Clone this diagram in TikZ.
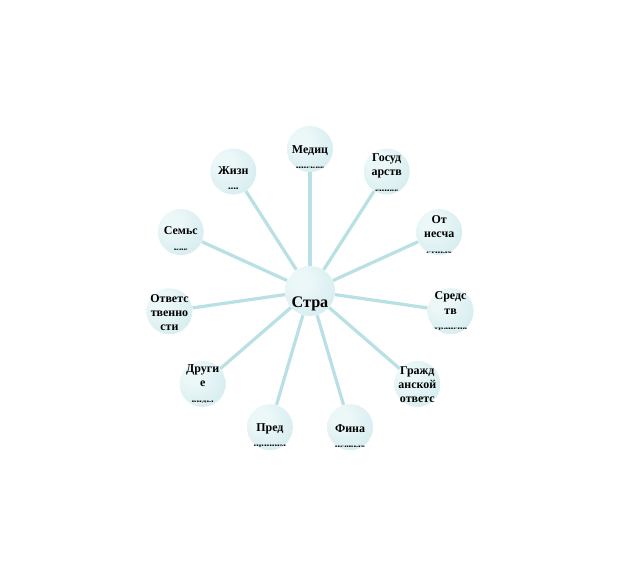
\documentclass[tikz,border=0pt]{standalone}
\usepackage{fontspec}
\setmainfont{Liberation Serif}
\usetikzlibrary{backgrounds}
\definecolor{spokeblue}{RGB}{185, 224, 228}
\definecolor{bubbleedge}{RGB}{200, 230, 234}
\definecolor{bubblelight}{RGB}{236, 247, 248}
\pgfdeclareradialshading{bubbleshade}{\pgfpoint{-12bp}{12bp}}{color(0bp)=(bubblelight); color(10bp)=(bubblelight); color(52bp)=(bubbleedge); color(75bp)=(bubbleedge!90!teal)}
% squashed bottom line, text lowered inside the circle
\newcommand{\minitxt}[1]{\raisebox{-1pt}{\scalebox{1}[0.35]{\fontsize{6.5}{7}\selectfont #1}}}
\newcommand{\bubtxt}[2][2pt]{\raisebox{\dimexpr-2pt-#1\relax}[0pt][0pt]{\begin{tabular}{@{}c@{}}#2\end{tabular}}}

\begin{document}
\begin{tikzpicture}[
    bubble/.style={circle, shading=bubbleshade, minimum size=1.15cm, inner sep=0pt,
        font=\bfseries\fontsize{8.5}{10}\selectfont},
    hub/.style={bubble, minimum size=1.25cm, font=\bfseries\fontsize{11.5}{13}\selectfont},
    spoke/.style={draw=spokeblue, line width=2.3pt}]

\useasboundingbox (-7.75,-7.4) rectangle (7.7,7.275);

\node[hub] (ctr) at (0,0) {\bubtxt[10pt]{Стра}};
\node[bubble] (med) at (90:3.55) {\bubtxt[6pt]{Медиц\\\minitxt{инское}}};
\node[bubble] (gos) at (57.3:3.55) {\bubtxt[1pt]{Госуд\\арств\\\minitxt{енное}}};
\node[bubble] (nes) at (24.5:3.55) {\bubtxt[2pt]{От\\несча\\\minitxt{стных}}};
\node[bubble] (trans) at (-8.2:3.55) {\bubtxt[0pt]{Средс\\тв\\\minitxt{транспо}}};
\node[bubble] (grazh) at (-40.9:3.55) {\bubtxt[1pt]{Гражд\\анской\\ответс}};
\node[bubble] (fin) at (-73.6:3.55) {\bubtxt[6.5pt]{Фина\\\minitxt{нсовых}}};
\node[bubble] (pred) at (-106.4:3.55) {\bubtxt[6pt]{Пред\\\minitxt{приним}}};
\node[bubble] (drug) at (-139.1:3.55) {\bubtxt[0pt]{Други\\е\\\minitxt{виды}}};
\node[bubble] (otv) at (-171.8:3.55) {\bubtxt[2pt]{Ответс\\твенно\\сти}};
\node[bubble] (sem) at (155.5:3.55) {\bubtxt[5pt]{Семьс\\\minitxt{кое}}};
\node[bubble] (zhizn) at (122.7:3.55) {\bubtxt[5pt]{Жизн\\\minitxt{ни}}};

\begin{scope}[on background layer]
\draw[spoke] (ctr) -- (med);
\draw[spoke] (ctr) -- (gos);
\draw[spoke] (ctr) -- (nes);
\draw[spoke] (ctr) -- (trans);
\draw[spoke] (ctr) -- (grazh);
\draw[spoke] (ctr) -- (fin);
\draw[spoke] (ctr) -- (pred);
\draw[spoke] (ctr) -- (drug);
\draw[spoke] (ctr) -- (otv);
\draw[spoke] (ctr) -- (sem);
\draw[spoke] (ctr) -- (zhizn);
\end{scope}
\end{tikzpicture}
\end{document}
